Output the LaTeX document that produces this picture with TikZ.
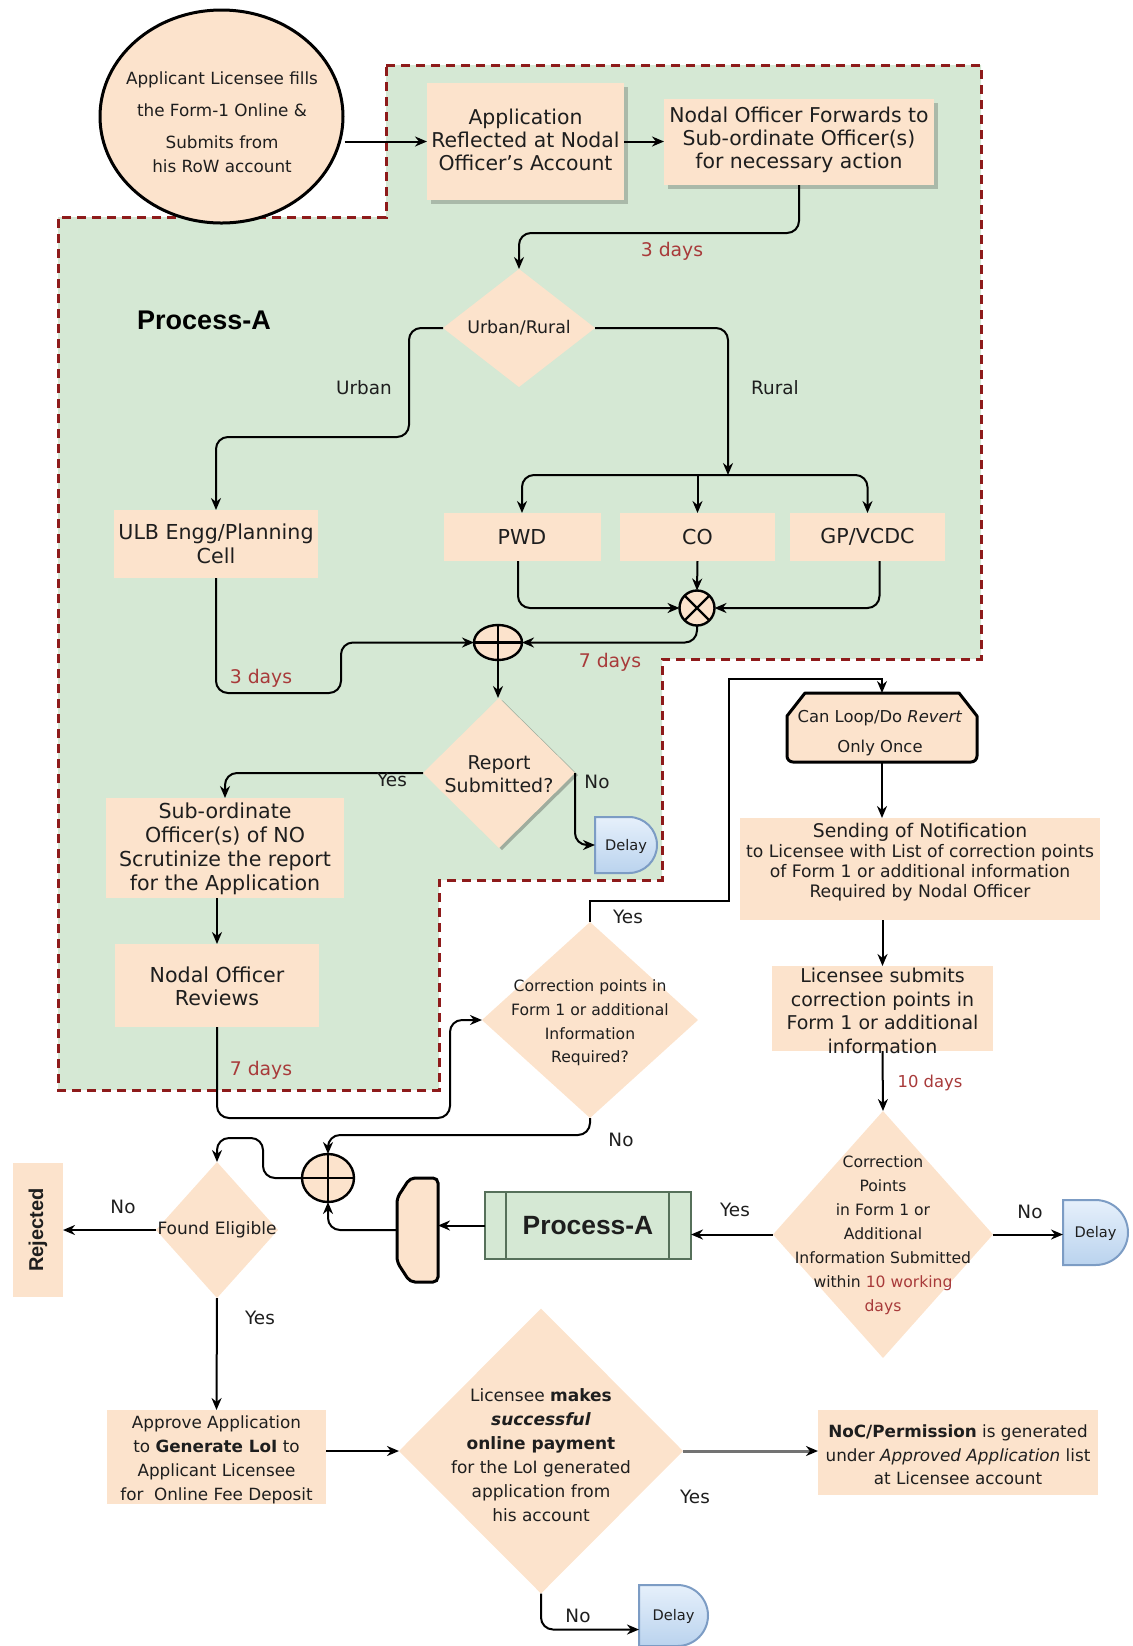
\documentclass[tikz,border=0pt]{standalone}
\usepackage{fontspec}
\setmainfont{DejaVu Sans}[ItalicFont={* Oblique},BoldItalicFont={* Bold Oblique}]
\newfontfamily\lsans{Liberation Sans}
\usetikzlibrary{arrows.meta,shapes.geometric,shapes.misc,shadows,calc}
\definecolor{peach}{HTML}{FCE3CC}
\definecolor{grn}{HTML}{D5E8D4}
\definecolor{dred}{HTML}{8E1B1B}
\definecolor{dtxt}{HTML}{A83A3A}
\definecolor{dlA}{HTML}{E6F0FB}
\definecolor{dlB}{HTML}{BAD3EE}
\definecolor{dlE}{HTML}{7C9CC4}
\definecolor{pab}{HTML}{56705A}
\definecolor{txt}{HTML}{1E1E1E}
\tikzset{
  box/.style={rectangle, fill=peach, inner sep=0pt, outer sep=0pt},
  shbox/.style={box, drop shadow={shadow xshift=2pt, shadow yshift=-2pt, fill=black, opacity=0.2}},
  dia/.style={diamond, fill=peach, inner sep=0pt, outer sep=0pt},
  inv/.style={rectangle, inner sep=0pt, outer sep=0pt},
  tx/.style={align=center, inner sep=0pt, text=txt},
  arr/.style={line width=1pt, -{Stealth[length=6pt,width=5pt]}},
  thinarr/.style={line width=0.7pt, -{Stealth[length=6pt,width=5pt]}},
  rc/.style={rounded corners=6pt},
  lab/.style={inner sep=0pt, text=txt, font=\fontsize{9.2}{11}\selectfont},
  days/.style={inner sep=0pt, text=dtxt, font=\fontsize{9.4}{11}\selectfont},
  delayshape/.style={rounded rectangle, rounded rectangle west arc=none, draw=dlE, line width=1pt, top color=dlA, bottom color=dlB, inner sep=0pt, outer sep=0pt},
  delaytext/.style={inner sep=0pt, text=txt, font=\fontsize{7.3}{9}\selectfont},
  gate/.style={draw=black, line width=1.2pt, fill=peach, inner sep=0pt, outer sep=0pt},
}
\begin{document}
\begin{tikzpicture}[x=0.5pt,y=-0.5pt]
\useasboundingbox (0,0) rectangle (1133,1646);
% Process-A region
\path[fill=grn] (386,65) -- (981,65) -- (981,659) -- (662,659) -- (662,880) -- (439,880) -- (439,1090) -- (58,1090) -- (58,217) -- (386,217) -- cycle;
\draw[dred, line width=1.5pt, dash pattern=on 4.5pt off 3pt] (386,65) -- (981,65) -- (981,659) -- (662,659) -- (662,880) -- (439,880) -- (439,1090) -- (58,1090) -- (58,217) -- (386,217) -- cycle;
\node[inner sep=0pt, font=\lsans\bfseries\fontsize{13.5}{16}\selectfont] (ttl) at (204,320) {Process-A};

% start
\node[ellipse, draw=black, line width=1.5pt, fill=peach, minimum width=121.5pt, minimum height=106.5pt, inner sep=0pt] (start) at (221.5,116.5) {};
\node[tx, font=\fontsize{8.4}{16}\selectfont] (startt) at (222,122) {Applicant Licensee fills\\the Form-1 Online \&\\Submits from\\[-4pt]his RoW account};

\node[shbox, minimum width=98.5pt, minimum height=58.5pt] (app) at (525.5,141.5) {};
\node[tx, font=\fontsize{10.2}{11.5}\selectfont] (appt) at (525.5,140) {Application\\Reflected at Nodal\\Officer's Account};

\node[shbox, minimum width=135pt, minimum height=43pt] (fwd) at (799,142) {};
\node[tx, font=\fontsize{10.2}{11.5}\selectfont] (fwdt) at (799,140) {Nodal Officer Forwards to\\Sub-ordinate Officer(s)\\for necessary action};

\node[dia, minimum width=76pt, minimum height=59pt] (ur) at (519,328) {};
\node[tx, font=\fontsize{8.7}{10}\selectfont] (urt) at (519,328) {Urban/Rural};

\node[box, minimum width=102pt, minimum height=34pt] (ulb) at (216,544) {};
\node[tx, font=\fontsize{10.3}{12}\selectfont] (ulbt) at (216,544) {ULB Engg/Planning\\Cell};

\node[box, minimum width=78.5pt, minimum height=24pt] (pwd) at (522,537) {};
\node[tx, font=\fontsize{10.3}{12}\selectfont] (pwdt) at (522,537) {PWD};
\node[box, minimum width=77.5pt, minimum height=24pt] (co) at (697.5,537) {};
\node[tx, font=\fontsize{10.3}{12}\selectfont] (cot) at (697.5,537) {CO};
\node[box, minimum width=77.5pt, minimum height=24pt] (gp) at (867.5,537) {};
\node[tx, font=\fontsize{10.3}{12}\selectfont] (gpt) at (867.5,537) {GP/VCDC};

\node[gate, circle, minimum size=17.5pt] (gx) at (697,608) {};
\draw[line width=1.2pt] (gx.45) -- (gx.225) (gx.135) -- (gx.315);
\node[gate, ellipse, minimum width=24pt, minimum height=17.5pt] (gp1) at (498,642.5) {};
\draw[line width=1.2pt] (gp1.north) -- (gp1.south) (gp1.west) -- (gp1.east);

\node[dia, minimum width=76pt, minimum height=75pt, drop shadow={shadow xshift=1.5pt, shadow yshift=-1pt, fill=black, opacity=0.25}] (rs) at (499,773) {};
\node[tx, font=\fontsize{9.5}{11.5}\selectfont] (rst) at (499,774) {Report\\Submitted?};

\node[delayshape, minimum width=31pt, minimum height=28pt] (dl1) at (626,845) {};
\node[delaytext] (dl1t) at (626,846) {Delay};

\node[box, minimum width=119pt, minimum height=50pt] (sub) at (225,848) {};
\node[tx, font=\fontsize{10.3}{12}\selectfont] (subt) at (225,849) {Sub-ordinate\\Officer(s) of NO\\Scrutinize the report\\for the Application};

\node[box, minimum width=102pt, minimum height=41.5pt] (rev) at (217,985.5) {};
\node[tx, font=\fontsize{10.3}{11.5}\selectfont] (revt) at (217,986) {Nodal Officer\\Reviews};

\node[dia, minimum width=108pt, minimum height=98pt] (cp) at (590,1020) {};
\node[tx, font=\fontsize{7.8}{11.85}\selectfont] (cpt) at (590,1023) {Correction points in\\Form 1 or additional\\Information\\Required?};

% Can loop shape
\node[inv, minimum width=95pt, minimum height=34.5pt] (cl) at (882,727.5) {};
\draw[line width=1.5pt, fill=peach, line join=round] (787,716) -- (805,693) -- (959,693) -- (977,716) [rounded corners=3pt] -- (977,762) -- (787,762) [sharp corners] -- cycle;
\node[tx, font=\fontsize{8.2}{15}\selectfont] (clt) at (880,733) {Can Loop/Do \textit{Revert}\\Only Once};

\node[box, minimum width=180pt, minimum height=51pt] (sn) at (920,869) {};
\node[tx, font=\fontsize{9.4}{11}\selectfont] (sn1) at (920,832) {Sending of Notification};
\node[tx, font=\fontsize{8.6}{10}\selectfont] (sn2) at (920,873) {to Licensee with List of correction points\\of Form 1 or additional information\\Required by Nodal Officer};

\node[box, minimum width=110.5pt, minimum height=42.5pt] (ls) at (882.5,1008.5) {};
\node[tx, font=\fontsize{9.5}{11.85}\selectfont] (lst) at (882.5,1011) {Licensee submits\\correction points in\\Form 1 or additional\\information};

\node[dia, minimum width=110pt, minimum height=123.5pt] (cpr) at (883,1234.5) {};
\node[tx, font=\fontsize{7.8}{12}\selectfont] (cprt) at (883,1235) {Correction\\Points\\in Form 1 or\\Additional\\Information Submitted\\within \textcolor{dtxt}{10 working}\\\textcolor{dtxt}{days}};

\node[delayshape, minimum width=32.5pt, minimum height=32.5pt] (dl2) at (1095.5,1232.5) {};
\node[delaytext] (dl2t) at (1095.5,1233.5) {Delay};

\node[rectangle, fill=grn, draw=pab, line width=1pt, minimum width=103pt, minimum height=33.5pt, inner sep=0pt, outer sep=0pt] (pa) at (588,1225.5) {};
\draw[pab, line width=1pt] ([xshift=10.5pt]pa.north west) -- ([xshift=10.5pt]pa.south west) ([xshift=-11pt]pa.north east) -- ([xshift=-11pt]pa.south east);
\node[inner sep=0pt, text=txt, font=\lsans\bfseries\fontsize{13.2}{16}\selectfont] (pat) at (588,1226) {Process-A};

% card shape
\node[inv, minimum width=20.5pt, minimum height=52pt] (card) at (417.5,1230) {};
\draw[line width=1.5pt, fill=peach, rounded corners=2.5pt] (410,1178) -- (438,1178) -- (438,1282) -- (410,1282) -- (397,1262) -- (397,1198) -- cycle;

\node[gate, ellipse, minimum width=26pt, minimum height=24pt] (gp2) at (328,1178) {};
\draw[line width=1.2pt] (gp2.north) -- (gp2.south) (gp2.west) -- (gp2.east);

\node[dia, minimum width=61pt, minimum height=68pt] (fe) at (217,1230) {};
\node[tx, font=\fontsize{8.5}{10}\selectfont] (fet) at (217,1230) {Found Eligible};

\node[box, minimum width=25pt, minimum height=67pt] (rej) at (38,1230) {};
\node[inner sep=0pt, rotate=90, text=txt, font=\lsans\bfseries\fontsize{10}{12}\selectfont] (rejt) at (38,1230) {Rejected};

\node[box, minimum width=109.5pt, minimum height=47pt] (ap) at (216.5,1457) {};
\node[tx, font=\fontsize{8.4}{12}\selectfont] (apt) at (216.5,1460) {Approve Application\\to \textbf{Generate LoI} to\\Applicant Licensee\\for\ \ Online Fee Deposit};

\node[dia, minimum width=142pt, minimum height=142.5pt] (lm) at (541,1451) {};
\node[tx, font=\fontsize{8.5}{12}\selectfont] (lmt) at (541,1455) {Licensee \textbf{makes}\\\textbf{\textit{successful}}\\\textbf{online payment}\\for the LoI generated\\application from\\his account};

\node[box, minimum width=140pt, minimum height=42.5pt] (noc) at (958,1452.5) {};
\node[tx, font=\fontsize{8.4}{11.75}\selectfont] (noct) at (958,1455) {\textbf{NoC/Permission} is generated\\under \textit{Approved Application} list\\at Licensee account};

\node[delayshape, minimum width=34.5pt, minimum height=30.5pt] (dl3) at (673.5,1615.5) {};
\node[delaytext] (dl3t) at (673.5,1616.5) {Delay};

% connectors
\draw[arr] (start.east |- app.west) -- (app.west);
\draw[arr] (app.east) -- (app.east -| fwd.west);
\draw[arr,rc] (fwd.south) -- ++(0,48) -| (ur.north);
\node[days] (d1) at (672,251) {3 days};
\draw[arr,rc] (ur.west) -- ++(-34,0) -- ++(0,109) -| (ulb.north);
\node[lab] (lu) at (364,388) {Urban};
\coordinate (rj) at (728,475);
\draw[arr,rc] (ur.east) -| (rj);
\node[lab] (lr) at (775,388) {Rural};
\draw[arr,rc] (rj) -| (pwd.north);
\draw[arr,rc] (rj) -| (gp.north);
\draw[arr] (rj -| co.north) -- (co.north);
\draw[arr] (co.south) -- (gx.north);
\draw[arr,rc] ([xshift=-2pt]pwd.south) |- (gx.west);
\draw[arr,rc] ([xshift=6pt]gp.south) |- (gx.east);
\draw[arr,rc] (gx.south) |- (gp1.east);
\node[days] (d2) at (610,662) {7 days};
\draw[arr,rc] (ulb.south) -- ++(0,115) -- ++(125,0) |- (gp1.west);
\node[days] (d3) at (261,678) {3 days};
\draw[arr] (gp1.south) -- (gp1.south |- rs.north);
\draw[arr,rc] (rs.west) -| (sub.north);
\node[lab] (ly1) at (392,780) {Yes};
\draw[arr,rc] (rs.east) |- (dl1.west);
\node[lab] (ln1) at (597,782) {No};
\draw[arr] (rev.north |- sub.south) -- (rev.north);
\draw[arr,rc] (rev.south) -- ++(0,91) -- ++(233,0) |- (cp.west);
\node[days] (d4) at (261,1070) {7 days};
\coordinate (lj) at (729,679);
\draw[thinarr] (cp.north) -- ++(0,-21) -| (lj) -| (cl.north);
\node[lab] (ly2) at (628,917) {Yes};
\draw[arr] (cl.south) -- (cl.south |- sn.north);
\draw[arr] (ls.north |- sn.south) -- (ls.north);
\draw[arr] (ls.south) -- (cpr.north);
\node[days, font=\fontsize{8.2}{10}\selectfont] (d5) at (930,1083) {10 days};
\draw[arr] (cpr.west) -- (cpr.west -| pa.east);
\node[lab] (ly3) at (735,1210) {Yes};
\draw[arr] (cpr.east) -- (cpr.east -| dl2.west);
\node[lab] (ln3) at (1030,1212) {No};
\draw[arr] (pa.west) -- (pa.west -| card.east);
\draw[arr,rc] (card.west) -| (gp2.south);
\draw[arr,rc] (cp.south) -- ++(0,17) -| (gp2.north);
\node[lab] (ln2) at (621,1140) {No};
\draw[arr,rc] (gp2.west) -- ++(-39,0) -- ++(0,-40) -| (fe.north);
\draw[arr] (fe.west) -- (rej.east);
\node[lab] (ln4) at (123,1207) {No};
\draw[arr] (fe.south) -- (ap.north);
\node[lab] (ly4) at (260,1318) {Yes};
\draw[arr] (lm.west -| ap.east) -- (lm.west);
\draw[line width=1.5pt, draw=black!55, -{Stealth[length=6pt,width=5pt,color=black]}] (lm.east) -- (lm.east -| noc.west);
\node[lab] (ly5) at (695,1497) {Yes};
\draw[arr,rc] (lm.south) |- ([yshift=-7pt]dl3.west);
\node[lab] (ln5) at (578,1616) {No};
\end{tikzpicture}
\end{document}
